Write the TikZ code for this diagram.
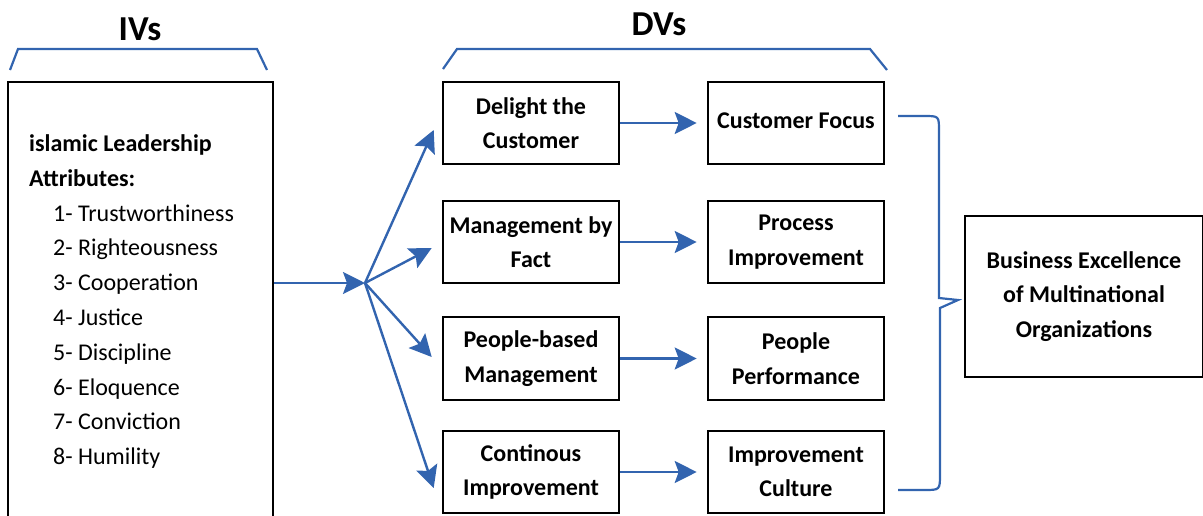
\documentclass[tikz,border=0pt]{standalone}
\usepackage{fontspec}
\setmainfont{Carlito}
\usetikzlibrary{arrows.meta,calc}
\definecolor{lblue}{RGB}{50,100,175}
\begin{document}
\begin{tikzpicture}[x=1pt,y=-1pt,
  box/.style={draw=black,line width=2.6pt,minimum width=176pt,minimum height=82pt,inner sep=0pt,align=center,font=\fontsize{24}{34.5}\selectfont\bfseries},
  conn/.style={draw=lblue,line width=2.4pt,-{Stealth[length=22pt,width=22pt,inset=4pt]}},
  brace/.style={draw=lblue,line width=2.2pt},
  title/.style={font=\fontsize{35}{38}\selectfont\bfseries,inner sep=0pt},
  ivhead/.style={anchor=base west,inner sep=0pt,font=\fontsize{24}{28}\selectfont\bfseries},
  ivitem/.style={anchor=base west,inner sep=0pt,font=\fontsize{24}{28}\selectfont}]
\useasboundingbox (0,0) rectangle (1203,515);
% titles and braces
\node[title] (ivs) at (140,29) {IVs};
\node[title] (dvs) at (659,24) {DVs};
\draw[brace] (10,70) -- (18,49) -- (257,49) -- (267,70);
\draw[brace] (443,69) -- (457,49) -- (870,49) -- (887,70);
% left box
\node[draw=black,line width=2.6pt,minimum width=265pt,minimum height=478pt,inner sep=0pt] (ivbox) at (140.5,321) {};
\node[ivhead] (l1) at (29,151.5) {islamic Leadership};
\node[ivhead] (l2) at (29,186.3) {Attributes:};
\node[ivitem] (l3) at (53,221.1) {1- Trustworthiness};
\node[ivitem] (l4) at (53,255.9) {2- Righteousness};
\node[ivitem] (l5) at (53,290.7) {3- Cooperation};
\node[ivitem] (l6) at (53,325.5) {4- Justice};
\node[ivitem] (l7) at (53,360.3) {5- Discipline};
\node[ivitem] (l8) at (53,395.1) {6- Eloquence};
\node[ivitem] (l9) at (53,429.9) {7- Conviction};
\node[ivitem] (l10) at (53,464.7) {8- Humility};
% column 1
\node[box] (d1) at (531,123) {Delight the\\Customer};
\node[box] (d2) at (531,242) {Management by\\Fact};
\node[box,minimum height=83pt] (d3) at (531,358.5) {People-based\\Management};
\node[box] (d4) at (531,472) {Continous\\Improvement};
% column 2
\node[box] (c1) at (796,123) {\raisebox{4pt}{Customer Focus}};
\node[box] (c2) at (796,242) {Process\\Improvement};
\node[box,minimum height=83pt] (c3) at (796,358.5) {People\\Performance};
\node[box] (c4) at (796,472) {Improvement\\Culture};
% final box
\node[box,minimum width=238pt,minimum height=161pt] (be) at (1084,296.5) {Business Excellence\\of Multinational\\Organizations};
% connectors
\coordinate (hub) at (365,283);
\draw[conn] (ivbox.east |- hub) -- (hub);
\draw[conn] (hub) -- ($(d1.west)+(-8,7)$);
\draw[conn] (hub) -- ($(d2.west)+(-10,6)$);
\draw[conn] (hub) -- ($(d3.west)+(-10,-1.5)$);
\draw[conn] (hub) -- ($(d4.west)+(-8,16)$);
\draw[conn,shorten >=10pt] (d1.east) -- (c1.west);
\draw[conn,shorten >=10pt] (d2.east) -- (c2.west);
\draw[conn,shorten >=10pt] (d3.east) -- (c3.west);
\draw[conn,shorten >=10pt] (d4.east) -- (c4.west);
% right brace
\draw[brace] (898,116) -- (924,116) .. controls (939,116) .. (939,131) -- (939,298) -- (958,300) -- (940,308) -- (940,474) .. controls (940,490) .. (924,490) -- (898,490);
\end{tikzpicture}
\end{document}
